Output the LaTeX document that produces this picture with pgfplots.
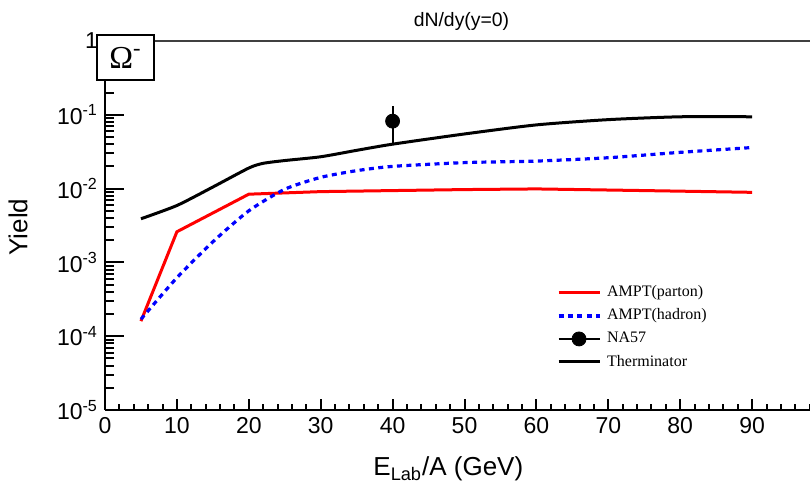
\documentclass[border=0pt]{standalone}
\usepackage{fontspec}
\setmainfont{Liberation Sans}
\newfontfamily\seriffont{Liberation Serif}
\usepackage{pgfplots}
\pgfplotsset{compat=1.18}

\pgfplotsset{
    rootframe/.style={
        scale only axis,
        width=352.5pt, height=184.5pt,
        xmin=0, xmax=98.05,
        ymin=1e-5, ymax=1,
        axis line style={line width=1pt},
        tick align=inside,
        every tick/.append style={line width=1pt, black},
        /pgf/number format/assume math mode=true,
        ticklabel style={font=\fontsize{11.5}{12}\selectfont},
        label style={font=\fontsize{13}{14}\selectfont},
    },
}

\begin{document}
\begin{tikzpicture}
% x ticks and x label (shorter ticks than on y)
\pgfplotsset{major tick length=5.5pt, minor tick length=3pt}
\begin{axis}[
    ymode=log,
    rootframe,
    name=axx,
    axis x line*=bottom, axis y line=none,
    xtick={0,10,...,90},
    minor xtick={2,4,6,8,12,14,16,18,22,24,26,28,32,34,36,38,42,44,46,48,52,54,56,58,62,64,66,68,72,74,76,78,82,84,86,88,92,94,96,98},
    xlabel={E\textsubscript{Lab}/A (GeV)},
    xlabel style={at={(rel axis cs:0.487,0)}, anchor=base, yshift=-33pt},
]
\end{axis}
% data, y axis
\pgfplotsset{major tick length=9.5pt, minor tick length=4.5pt}
\begin{axis}[
    ymode=log,
    rootframe,
    name=ax,
    axis x line*=bottom, axis y line*=left,
    xtick=\empty,
    ytick={1e-5,1e-4,1e-3,1e-2,1e-1,1},
    yticklabels={10\textsuperscript{-5},10\textsuperscript{-4},10\textsuperscript{-3},10\textsuperscript{-2},10\textsuperscript{-1},1},
    minor ytick={2e-5,3e-5,4e-5,5e-5,6e-5,7e-5,8e-5,9e-5,
                 2e-4,3e-4,4e-4,5e-4,6e-4,7e-4,8e-4,9e-4,
                 2e-3,3e-3,4e-3,5e-3,6e-3,7e-3,8e-3,9e-3,
                 2e-2,3e-2,4e-2,5e-2,6e-2,7e-2,8e-2,9e-2,
                 0.2,0.3,0.4,0.5,0.6,0.7,0.8,0.9},
    ylabel={Yield},
    ylabel style={at={([xshift=-43.5pt]rel axis cs:0,0.496)}, anchor=center},
    legend style={at={(rel axis cs:0.632,0.36)}, anchor=north west,
        draw=none, fill=none, font=\seriffont\fontsize{8}{9.6}\selectfont,
        row sep=0.6pt, cells={anchor=west},
        /tikz/every odd column/.append style={column sep=1pt}},
    legend image code/.code={
        \draw[#1] (0cm,0cm) -- (0.72cm,0cm);},
]
\addplot[red, line width=1.5pt] coordinates {
    (5,1.6e-4) (10,2.6e-3) (20,8.4e-3) (30,9.1e-3) (40,9.4e-3) (50,9.7e-3)
    (60,9.9e-3) (75,9.4e-3) (90,8.9e-3)};
\addlegendentry{AMPT(parton)}
\addplot[blue, line width=1.6pt, dash pattern=on 2.5pt off 2.2pt, smooth, tension=0.4] coordinates {
    (5,1.7e-4) (10,6.2e-4) (15,1.9e-3) (20,5.0e-3) (25,9.8e-3) (30,0.0142)
    (35,0.0175) (40,0.0200) (50,0.0225) (60,0.0236) (70,0.0262) (80,0.0310) (90,0.0360)};
\addlegendentry{AMPT(hadron)}
\addplot[black, only marks, mark=*, mark size=3.5pt, forget plot,
    error bars/.cd, y dir=both, y explicit, error mark=none,
    error bar style={line width=1pt}]
    coordinates {(40,0.082) += (0,0.05) -= (0,0.043)};
\addlegendimage{legend image code/.code={
    \draw[black, line width=1pt] (0cm,0cm) -- (0.72cm,0cm);
    \fill[black] (0.36cm,0cm) circle (3.5pt);}}
\addlegendentry{NA57}
\addplot[black, line width=1.5pt, smooth, tension=0.4] coordinates {
    (5,0.0039) (10,0.0059) (15,0.0105) (20,0.019) (22,0.022) (25,0.024) (30,0.027)
    (35,0.033) (40,0.040) (50,0.055) (60,0.073) (70,0.086) (80,0.094) (90,0.094)};
\addlegendentry{Therminator}
\end{axis}
\draw[line width=0.6pt, black!75] (ax.north west) -- (ax.north east);
\node[draw, line width=1.2pt, fill=white, minimum width=28.5pt, minimum height=22.5pt,
    inner sep=0pt, font=\seriffont\fontsize{16}{16}\selectfont]
    at ([xshift=10.25pt,yshift=-8.25pt]ax.north west) {Ω\textsuperscript{-}};
\node[anchor=base, font=\fontsize{9.7}{10}\selectfont]
    at ([xshift=2pt,yshift=7.2pt]ax.north) {dN/dy(y=0)};
\pgfresetboundingbox
\path[use as bounding box] ([xshift=-52.5pt,yshift=-38pt]ax.south west) rectangle ([yshift=20.5pt]ax.north east);
\end{tikzpicture}
\end{document}
